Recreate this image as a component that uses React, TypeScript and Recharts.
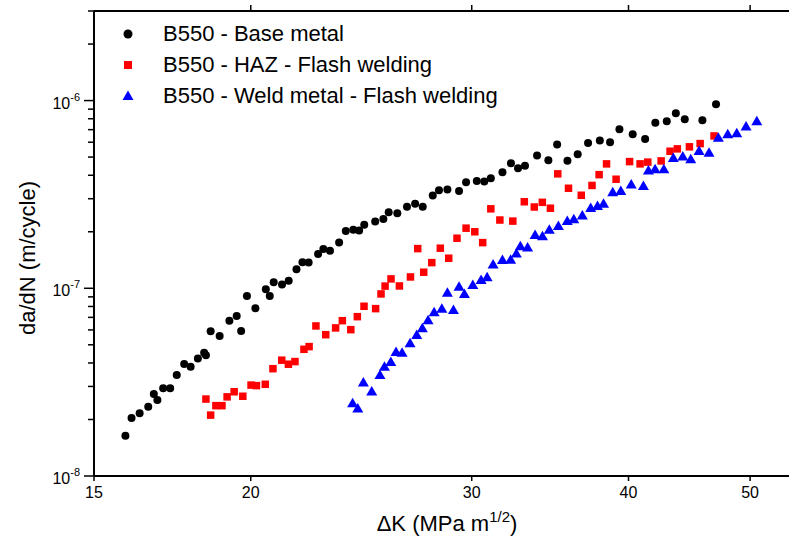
import React from "react";
import { ScatterChart, Scatter, XAxis, YAxis, Legend } from "recharts";

// B550 base metal
const baseDK = [
  15.89, 16.07, 16.31, 16.57, 16.74, 16.85, 17.03, 17.25, 17.46, 17.7,
  17.91, 18.15, 18.36, 18.42, 18.58, 18.89, 19.23, 19.49, 19.65, 19.86,
  20.17, 20.56, 20.71, 20.86, 21.18, 21.44, 21.75, 21.99, 22.24, 22.63,
  22.85, 23.13, 23.52, 23.81, 24.14, 24.4, 24.63, 25.13, 25.51, 25.76,
  26.17, 26.64, 27.04, 27.42, 27.93, 28.25, 28.69, 29.31, 29.69, 30.28,
  30.7, 31.07, 31.74, 32.24, 32.66, 33.08, 33.82, 34.53, 35.09, 35.76,
  36.44, 37.14, 37.95, 38.67, 39.34, 40.31, 41.24, 42.02, 42.91, 43.63,
  44.35, 45.81, 46.97,
];
const baseRate = [
  1.64e-8, 2.04e-8, 2.16e-8, 2.34e-8, 2.73e-8, 2.54e-8, 2.93e-8, 2.93e-8, 3.45e-8, 3.95e-8,
  3.82e-8, 4.22e-8, 4.54e-8, 4.4e-8, 5.9e-8, 5.57e-8, 6.72e-8, 7.12e-8, 5.93e-8, 9.1e-8,
  7.83e-8, 9.88e-8, 9.1e-8, 1.077e-7, 1.046e-7, 1.098e-7, 1.263e-7, 1.377e-7, 1.373e-7, 1.524e-7,
  1.621e-7, 1.587e-7, 1.751e-7, 2.02e-7, 2.05e-7, 2.03e-7, 2.18e-7, 2.27e-7, 2.34e-7, 2.54e-7,
  2.51e-7, 2.72e-7, 2.82e-7, 2.72e-7, 3.12e-7, 3.33e-7, 3.36e-7, 3.3e-7, 3.67e-7, 3.73e-7,
  3.7e-7, 3.86e-7, 4.15e-7, 4.64e-7, 4.36e-7, 4.5e-7, 5.09e-7, 4.81e-7, 5.83e-7, 4.78e-7,
  5.18e-7, 5.95e-7, 6.12e-7, 6.0e-7, 7.04e-7, 6.62e-7, 6.25e-7, 7.61e-7, 7.77e-7, 8.57e-7,
  7.96e-7, 7.86e-7, 9.57e-7,
];

// B550 HAZ, flash welding
const hazDK = [
  18.42, 18.58, 18.76, 18.97, 19.15, 19.4, 19.71, 20.01, 20.21, 20.54,
  20.83, 21.17, 21.43, 21.69, 22.05, 22.26, 22.54, 22.95, 23.37, 23.66,
  24.03, 24.32, 24.62, 25.15, 25.4, 25.59, 25.87, 26.27, 26.81, 27.17,
  27.47, 27.88, 28.32, 28.76, 29.2, 29.69, 30.17, 30.61, 31.07, 31.59,
  32.35, 33.04, 33.65, 34.15, 34.66, 35.13, 35.83, 36.68, 37.41, 37.9,
  38.42, 39.1, 40.08, 40.86, 41.44, 42.47, 43.17, 43.75, 44.73, 45.62, 46.8,
];
const hazRate = [
  2.57e-8, 2.11e-8, 2.37e-8, 2.37e-8, 2.64e-8, 2.81e-8, 2.66e-8, 3.05e-8, 3.03e-8, 3.08e-8,
  3.73e-8, 4.14e-8, 3.94e-8, 4.07e-8, 4.73e-8, 4.89e-8, 6.3e-8, 5.66e-8, 6.15e-8, 6.72e-8,
  6.02e-8, 7.06e-8, 8.02e-8, 7.79e-8, 9.33e-8, 1.027e-7, 1.122e-7, 1.029e-7, 1.149e-7, 1.627e-7,
  1.218e-7, 1.37e-7, 1.635e-7, 1.446e-7, 1.848e-7, 2.09e-7, 2.0e-7, 1.751e-7, 2.65e-7, 2.31e-7,
  2.28e-7, 2.89e-7, 2.71e-7, 2.87e-7, 2.67e-7, 4.07e-7, 3.41e-7, 3.13e-7, 3.53e-7, 4.03e-7,
  4.6e-7, 3.81e-7, 4.73e-7, 4.6e-7, 4.7e-7, 4.77e-7, 5.37e-7, 5.53e-7, 5.67e-7, 5.9e-7, 6.48e-7,
];

// B550 weld metal, flash welding
const weldDK = [
  24.11, 24.34, 24.59, 24.97, 25.35, 25.56, 25.86, 26.11, 26.4, 26.79,
  27.12, 27.4, 27.69, 28.0, 28.4, 28.69, 29.01, 29.31, 29.6, 30.06,
  30.52, 30.86, 31.2, 31.74, 32.22, 32.56, 32.8, 33.24, 33.7, 34.16,
  34.59, 35.17, 35.75, 36.18, 36.75, 37.32, 37.79, 38.21, 38.86, 39.44,
  40.2, 41.11, 41.49, 42.0, 42.68, 43.43, 44.19, 44.84, 45.53, 46.37,
  47.17, 47.99, 48.79, 49.63, 50.62,
];
const weldRate = [
  2.44e-8, 2.29e-8, 3.15e-8, 2.82e-8, 3.45e-8, 3.82e-8, 4.05e-8, 4.57e-8, 4.54e-8, 5.09e-8,
  5.64e-8, 6.12e-8, 6.76e-8, 7.45e-8, 7.79e-8, 9.48e-8, 7.67e-8, 1.02e-7, 9.33e-8, 1.042e-7,
  1.108e-7, 1.145e-7, 1.337e-7, 1.416e-7, 1.421e-7, 1.53e-7, 1.677e-7, 1.647e-7, 1.92e-7, 1.896e-7,
  2.05e-7, 2.15e-7, 2.28e-7, 2.33e-7, 2.44e-7, 2.68e-7, 2.74e-7, 2.82e-7, 3.25e-7, 3.3e-7,
  3.57e-7, 3.51e-7, 4.24e-7, 4.31e-7, 4.31e-7, 4.95e-7, 5.03e-7, 4.87e-7, 5.39e-7, 5.28e-7,
  6.33e-7, 6.62e-7, 6.7e-7, 7.27e-7, 7.77e-7,
];

const seriesNames = [
  "B550 - Base metal",
  "B550 - HAZ - Flash welding",
  "B550 - Weld metal - Flash welding",
];

const xTicks = [15, 20, 30, 40, 50];
const xTopTicks = [20, 30, 40, 50];
const yTicks = [
  1e-8, 2e-8, 3e-8, 4e-8, 5e-8, 6e-8, 7e-8, 8e-8, 9e-8,
  1e-7, 2e-7, 3e-7, 4e-7, 5e-7, 6e-7, 7e-7, 8e-7, 9e-7,
  1e-6, 2e-6, 3e-6,
];

const FONT = '"Liberation Sans", Arial, Helvetica, sans-serif';

const zip = (xs: number[], ys: number[]) => xs.map((dk, i) => ({ dk, rate: ys[i] }));
const baseData = zip(baseDK, baseRate);
const hazData = zip(hazDK, hazRate);
const weldData = zip(weldDK, weldRate);

const Dot = (p: any) => <circle cx={p.cx} cy={p.cy} r={4} fill="#000000" />;
const Square = (p: any) => (
  <rect x={p.cx - 3.75} y={p.cy - 3.75} width={7.5} height={7.5} fill="#ff0000" />
);
const Tri = (p: any) => (
  <polygon
    points={`${p.cx},${p.cy - 5.5} ${p.cx - 5.5},${p.cy + 4} ${p.cx + 5.5},${p.cy + 4}`}
    fill="#0000ff"
  />
);

const YTick = (props: any) => {
  const { x, y, payload } = props;
  const v = payload.value;
  const exp = Math.round(Math.log10(v));
  const major = Math.abs(v - Math.pow(10, exp)) / v < 1e-6;
  return (
    <g>
      <line x1={x - (major ? 10 : 6)} x2={x} y1={y} y2={y} stroke="#000" strokeWidth={1.5} />
      {major && (
        <text x={x - 14} y={y + 8} textAnchor="end" fontFamily={FONT} fill="#000">
          <tspan fontSize={16}>10</tspan>
          <tspan fontSize={11} dy={-8}>{String(exp)}</tspan>
        </text>
      )}
    </g>
  );
};

const NoTick = () => <g />;

const XTitle = () => (
  <text x={447} y={531} textAnchor="middle" fontFamily={FONT} fontSize={22} fill="#000">
    ΔK (MPa m
    <tspan fontSize={15} dy={-9}>1/2</tspan>
    <tspan dy={9}>)</tspan>
  </text>
);

const YTitle = () => (
  <text
    x={35}
    y={258}
    transform="rotate(-90, 35, 258)"
    textAnchor="middle"
    fontFamily={FONT}
    fontSize={22}
    fill="#000"
  >
    da/dN (m/cycle)
  </text>
);

const markers = [
  <circle cx={10} cy={10} r={4.5} fill="#000000" />,
  <rect x={6} y={6} width={8} height={8} fill="#ff0000" />,
  <polygon points="10,4.5 4.5,14 15.5,14" fill="#0000ff" />,
];

const renderLegend = () => (
  <div style={{ fontFamily: FONT, fontSize: 22, color: "#000" }}>
    {seriesNames.map((name, i) => (
      <div key={name} style={{ display: "flex", alignItems: "center", height: 31 }}>
        <svg width={20} height={20} style={{ display: "block" }}>
          {markers[i]}
        </svg>
        <span style={{ marginLeft: 25, lineHeight: "31px", whiteSpace: "nowrap" }}>{name}</span>
      </div>
    ))}
  </div>
);

export default function App() {
  return (
    <div style={{ position: "absolute", left: 0, top: 0 }}>
      <ScatterChart width={789} height={536} margin={{ top: 0, right: 0, bottom: 0, left: 0 }}>
        <XAxis
          dataKey="dk"
          type="number"
          scale="log"
          domain={[15, 53.7]}
          allowDataOverflow
          ticks={xTicks}
          interval={0}
          height={60}
          tickSize={5}
          tickMargin={6}
          axisLine={{ stroke: "#000", strokeWidth: 2 }}
          tickLine={{ stroke: "#000", strokeWidth: 1.5 }}
          tick={{ fill: "#000", fontSize: 16, fontFamily: FONT }}
          label={<XTitle />}
        />
        <XAxis
          xAxisId="top"
          orientation="top"
          dataKey="dk"
          type="number"
          scale="log"
          domain={[15, 53.7]}
          allowDataOverflow
          ticks={xTopTicks}
          interval={0}
          height={11}
          tickSize={6}
          axisLine={{ stroke: "#000", strokeWidth: 2 }}
          tickLine={{ stroke: "#000", strokeWidth: 1.5 }}
          tick={<NoTick />}
        />
        <YAxis
          dataKey="rate"
          type="number"
          scale="log"
          domain={[1e-8, 3e-6]}
          allowDataOverflow
          ticks={yTicks}
          interval={0}
          width={94}
          tickSize={0}
          tickMargin={0}
          axisLine={{ stroke: "#000", strokeWidth: 2 }}
          tickLine={false}
          tick={<YTick />}
          label={<YTitle />}
        />
        <Legend
          layout="horizontal"
          verticalAlign="middle"
          align="center"
          content={renderLegend}
          wrapperStyle={{ top: 18, left: 118, width: "auto", height: "auto" }}
        />
        <Scatter name={seriesNames[0]} data={baseData} shape={Dot} isAnimationActive={false} />
        <Scatter name={seriesNames[1]} data={hazData} shape={Square} isAnimationActive={false} />
        <Scatter name={seriesNames[2]} data={weldData} shape={Tri} isAnimationActive={false} />
      </ScatterChart>
    </div>
  );
}
